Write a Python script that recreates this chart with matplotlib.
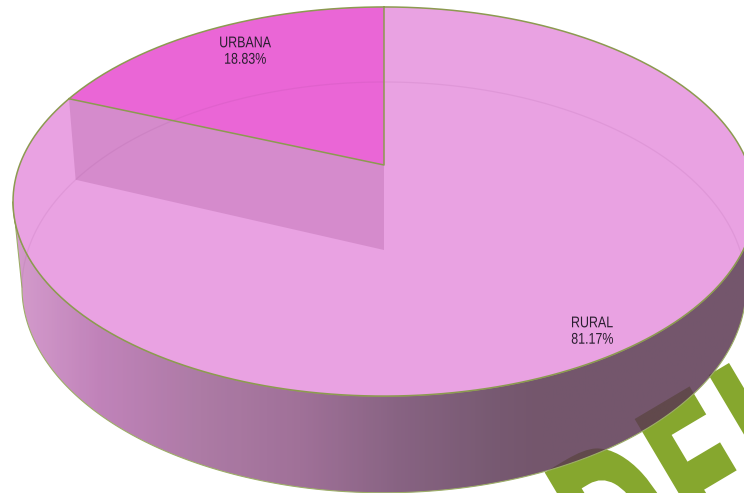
import numpy as np
import matplotlib
matplotlib.use("Agg")
import matplotlib.pyplot as plt
from matplotlib.colors import LinearSegmentedColormap
from matplotlib.patches import Polygon
from matplotlib.patheffects import AbstractPathEffect
from matplotlib.transforms import Affine2D

CATEGORIES = ["URBANA", "RURAL"]
VALUES = [18.83, 81.17]
COLORS = ["#EA66D6", "#E9A2E2"]
WATERMARK = "DEL"

# wall gradient: x position, colour
WALL_X = [0.0, 0.117, 0.252, 0.387, 0.522, 0.657, 0.711, 1.0]
WALL_C = ["#CD8AC4", "#B56CAD", "#9E6395", "#8F5786", "#72476C", "#5E3B57", "#5B3852", "#5B3852"]

EDGE = "#8C9A50"


# lets a Text artist be drawn narrower than the font is
class Squeeze(AbstractPathEffect):
    def __init__(self, sx, center=True):
        super().__init__()
        self.sx = sx
        self.center = center

    def draw_path(self, renderer, gc, tpath, affine, rgbFace=None):
        mid = 0
        if self.center and len(tpath.vertices):
            mid = (tpath.vertices[:, 0].min() + tpath.vertices[:, 0].max()) / 2
        t = Affine2D().translate(-mid, 0).scale(self.sx, 1).translate(mid, 0)
        renderer.draw_path(gc, tpath, t + affine, rgbFace)


# circle seen in perspective, t = 0 at the far side
def project(t, cy, a, b, k):
    u, v = np.sin(t), np.cos(t)
    d = 1 + k * v
    return 384 + a * u / d, cy - b * v / d


TOP = (165, 364.4, 187.7, 0.1877)
BOT = (250, 356.0, 198.6, 0.182)

fig = plt.figure(figsize=(7.44, 4.93), dpi=100)
ax = fig.add_axes([0, 0, 1, 1])
ax.axis("off")

# watermark behind the pie
ax.text(620, 622, WATERMARK, color="#86A72E", fontsize=165, fontweight="bold",
        family="DejaVu Sans", rotation=30.7, rotation_mode="anchor",
        ha="left", va="baseline", zorder=1, clip_on=False,
        path_effects=[Squeeze(0.55, center=False)])

# outer wall
ts = np.linspace(-np.arccos(-TOP[3]), -2 * np.pi + np.arccos(-TOP[3]), 200)
tx, ty = project(ts, *TOP)
bs = np.linspace(-np.arccos(-BOT[3]), -2 * np.pi + np.arccos(-BOT[3]), 200)
bx, by = project(bs, *BOT)
wall = np.vstack([np.column_stack([tx, ty]), np.column_stack([bx[::-1], by[::-1]])])
wall_patch = Polygon(wall, closed=True, fc="none", ec="none", zorder=2)
ax.add_patch(wall_patch)
cmap = LinearSegmentedColormap.from_list("wall", list(zip(WALL_X, WALL_C)))
im = ax.imshow(np.linspace(0, 1, 256)[None, :], cmap=cmap, aspect="auto",
               extent=(13, 755, 493, 190), alpha=0.85, zorder=2)
im.set_clip_path(wall_patch)
ax.add_patch(Polygon(wall, closed=True, fc="none", ec="#9DAE68", lw=0.8, zorder=2.5))

# top face, slices come from the values
angle = 2 * np.pi * VALUES[0] / sum(VALUES)
tt = np.linspace(-2 * np.pi + angle, 0, 400)
rx, ry = project(tt - angle, *TOP)
ax.add_patch(Polygon(np.column_stack([rx, ry]), closed=True, fc=COLORS[1], ec="none", zorder=3))
ut = np.linspace(-angle, 0, 100)
ux, uy = project(ut, *TOP)
apex = (384, TOP[0])
urb = np.vstack([[apex], np.column_stack([ux, uy])])
ax.add_patch(Polygon(urb, closed=True, fc=COLORS[0], ec="none", zorder=3))

# cut face seen through the top
ex, ey = project(-angle, *TOP)
fx, fy = project(-angle, *BOT)
ax.add_patch(Polygon([(ex, ey), apex, (384, BOT[0]), (fx, fy)], closed=True,
                     fc="#A8589A", ec="none", alpha=0.3, zorder=3.2))

# far edge of the bottom plate, seen through the top
far = np.linspace(-np.arccos(-BOT[3]), np.arccos(-BOT[3]), 300)
gx, gy = project(far, *BOT)
ax.plot(gx, gy, color="#8A3A80", lw=0.9, alpha=0.1, zorder=3.3)

# outlines
all_t = np.linspace(0, 2 * np.pi, 500)
ox, oy = project(all_t, *TOP)
ax.plot(ox, oy, color=EDGE, lw=1.1, zorder=4)
ax.plot([ex, 384, 384], [ey, TOP[0], project(0, *TOP)[1]], color=EDGE, lw=1.1, zorder=4)

label_pos = [(245, 51), (592, 331)]
for name, val, (lx, ly) in zip(CATEGORIES, VALUES, label_pos):
    ax.text(lx, ly, "%s\n%.2f%%" % (name, val), color="#2A1E30", fontsize=11.2,
            family="Liberation Sans", ha="center", va="center", zorder=5,
            linespacing=1.12, path_effects=[Squeeze(0.8)])

ax.set_xlim(0, 744)
ax.set_ylim(493, 0)
fig.savefig("out.png", dpi=100, facecolor="white")
